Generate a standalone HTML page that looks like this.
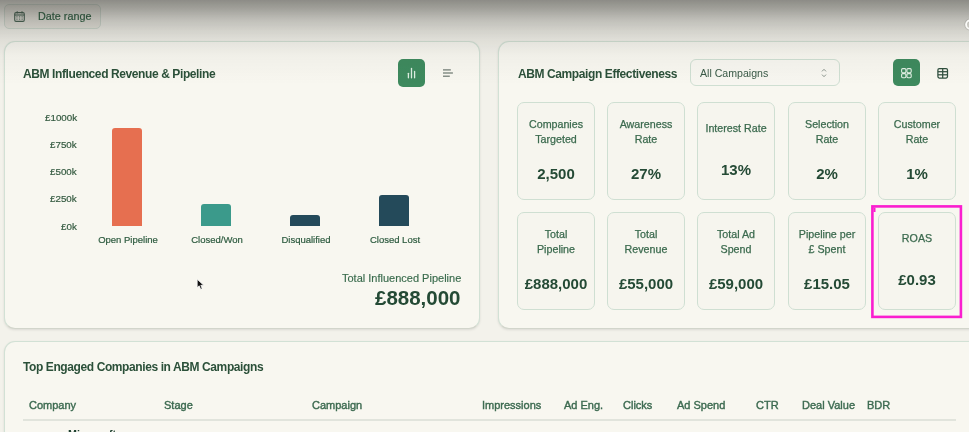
<!DOCTYPE html>
<html><head><meta charset="utf-8">
<style>
*{box-sizing:border-box;margin:0;padding:0}
html,body{width:969px;height:432px;overflow:hidden}
body{background:#f3f2eb;font-family:"Liberation Sans",sans-serif;position:relative;color:#2f5a42}
.abs{position:absolute;white-space:nowrap;line-height:1;will-change:transform}
.card{position:absolute;background:#f8f7f0;border:1px solid #d2e1d5;border-bottom-color:#d2d5cb;border-radius:11px;box-shadow:0 1px 2.5px rgba(0,0,0,0.1)}
.btn{position:absolute;border:1px solid #d3ddd3;border-radius:5px;background:#eceae2}
.gbtn{position:absolute;width:27px;height:27px;border-radius:5px;background:#3e8a5e}
.mc{will-change:transform;position:absolute;width:78px;height:97.5px;border:1px solid #cfdfd2;border-radius:7px;background:#f6f5ee}
.lab{position:absolute;left:0;width:100%;text-align:center;font-size:10.7px;line-height:15px;color:#3b6a4e;white-space:nowrap;-webkit-text-stroke:0.25px #3b6a4e}
.val{position:absolute;left:0;width:100%;text-align:center;font-size:15px;font-weight:bold;line-height:1;color:#244a35;white-space:nowrap}
.ylab{will-change:transform;position:absolute;right:892px;font-size:9.8px;line-height:1;color:#33593f;-webkit-text-stroke:0.2px #33593f;white-space:nowrap}
.bar{position:absolute;width:30px;border-radius:3px 3px 0 0}
.xlab{will-change:transform;position:absolute;font-size:9.5px;line-height:1;color:#2c5a3e;-webkit-text-stroke:0.2px #2c5a3e;white-space:nowrap;text-align:center;width:100px}
.th{will-change:transform;position:absolute;top:399.7px;font-size:11px;line-height:1;color:#3c6a50;white-space:nowrap;-webkit-text-stroke:0.4px #3c6a50}
#shade{position:absolute;left:0;top:0;width:969px;height:120px;pointer-events:none;
background:linear-gradient(to bottom,rgba(40,40,35,0.50) 0px,rgba(40,40,35,0.46) 4px,rgba(40,40,35,0.385) 10px,rgba(40,40,35,0.25) 20px,rgba(40,40,35,0.145) 32px,rgba(40,40,35,0.10) 39px,rgba(40,40,35,0.072) 46px,rgba(40,40,35,0.034) 56px,rgba(40,40,35,0.018) 68px,rgba(40,40,35,0) 85px)}
</style></head><body>

<!-- Date range button -->
<div class="btn" style="left:4px;top:4px;width:97px;height:25px"></div>
<svg class="abs" style="left:13px;top:10px" width="13" height="13" viewBox="0 0 13 13">
  <g fill="none" stroke="#4a6656" stroke-width="1.1">
  <rect x="1.7" y="2.6" width="9.6" height="8.8" rx="1.3"/>
  <line x1="1.7" y1="5" x2="11.3" y2="5"/>
  <line x1="4.2" y1="1.2" x2="4.2" y2="3.4"/><line x1="9" y1="1.2" x2="9" y2="3.4"/>
  </g>
  <g fill="#6b8275"><rect x="3.3" y="6.3" width="1.3" height="1.1"/><rect x="5.9" y="6.3" width="1.3" height="1.1"/><rect x="8.5" y="6.3" width="1.3" height="1.1"/>
  <rect x="3.3" y="8.6" width="1.3" height="1.1"/><rect x="5.9" y="8.6" width="1.3" height="1.1"/><rect x="8.5" y="8.6" width="1.3" height="1.1"/></g>
</svg>
<div class="abs" style="left:38.3px;top:10.8px;font-size:10.8px;color:#2f6144;-webkit-text-stroke:0.2px #2f6144">Date range</div>

<!-- Card 1 -->
<div class="card" style="left:4.3px;top:40.6px;width:476px;height:288.2px"></div>
<div class="abs" style="left:23px;top:67.5px;font-size:12px;font-weight:bold;letter-spacing:-0.4px;color:#2b5039">ABM Influenced Revenue &amp; Pipeline</div>
<div class="gbtn" style="left:398px;top:59.3px;height:27.4px"></div>
<svg class="abs" style="left:398px;top:58.6px" width="27" height="27" viewBox="0 0 27 27">
  <line x1="10.4" y1="14.3" x2="10.4" y2="18.8" stroke="#dfeee2" stroke-width="1.3" stroke-linecap="round"/>
  <line x1="13.5" y1="9.5" x2="13.5" y2="18.8" stroke="#dfeee2" stroke-width="1.3" stroke-linecap="round"/>
  <line x1="16.6" y1="12.4" x2="16.6" y2="18.8" stroke="#dfeee2" stroke-width="1.3" stroke-linecap="round"/>
</svg>
<svg class="abs" style="left:442px;top:68px" width="12" height="10" viewBox="0 0 12 10">
  <line x1="1" y1="1.9" x2="8.8" y2="1.9" stroke="#6b766e" stroke-width="1.2"/>
  <line x1="1" y1="5" x2="10.9" y2="5" stroke="#6b766e" stroke-width="1.2"/>
  <line x1="1" y1="8.2" x2="7.8" y2="8.2" stroke="#6b766e" stroke-width="1.2"/>
</svg>

<div class="ylab" style="top:112.5px">£1000k</div>
<div class="ylab" style="top:139.5px">£750k</div>
<div class="ylab" style="top:166.5px">£500k</div>
<div class="ylab" style="top:194px">£250k</div>
<div class="ylab" style="top:221.5px">£0k</div>

<div class="bar" style="left:112px;top:127.5px;height:98.5px;background:#e66f50"></div>
<div class="bar" style="left:201px;top:204px;height:22px;background:#3b9a8b"></div>
<div class="bar" style="left:290px;top:214.5px;height:11.5px;background:#244a5a"></div>
<div class="bar" style="left:379px;top:194.5px;height:31.5px;background:#244a5a"></div>

<div class="xlab" style="left:77.5px;top:235px">Open Pipeline</div>
<div class="xlab" style="left:166.5px;top:235px">Closed/Won</div>
<div class="xlab" style="left:255.5px;top:235px">Disqualified</div>
<div class="xlab" style="left:344.5px;top:235px">Closed Lost</div>

<svg class="abs" style="left:196px;top:278px" width="10" height="13" viewBox="0 0 10 13">
  <polygon points="1.2,1.3 1.2,9.6 3.2,7.8 4.7,11.3 6.2,10.7 4.8,7.3 7.7,7.3" fill="#111" stroke="#fff" stroke-width="0.7" stroke-linejoin="round"/>
</svg>
<div class="abs" style="right:508px;top:272.5px;font-size:11px;color:#386a4b;-webkit-text-stroke:0.15px #386a4b">Total Influenced Pipeline</div>
<div class="abs" style="right:508px;top:288px;font-size:20.5px;font-weight:bold;color:#244a35">£888,000</div>

<!-- Card 2 -->
<div class="card" style="left:498.4px;top:40.6px;width:490px;height:288.2px"></div>
<div class="abs" style="left:518px;top:67.5px;font-size:12px;font-weight:bold;letter-spacing:-0.4px;color:#2b5039">ABM Campaign Effectiveness</div>
<div class="btn" style="left:689.6px;top:59.4px;width:150.6px;height:27px;background:#f7f6f0;border-color:#cfdfd2;border-radius:6px"></div>
<div class="abs" style="left:700px;top:68px;font-size:10.6px;color:#3a5a47">All Campaigns</div>
<svg class="abs" style="left:820px;top:68px" width="8" height="10" viewBox="0 0 8 10">
  <polyline points="2,3.4 4,1.3 6,3.4" fill="none" stroke="#8a948c" stroke-width="1"/>
  <polyline points="2,6.6 4,8.7 6,6.6" fill="none" stroke="#8a948c" stroke-width="1"/>
</svg>
<div class="gbtn" style="left:893px;top:59px"></div>
<svg class="abs" style="left:893px;top:59px" width="27" height="27" viewBox="0 0 27 27">
  <g fill="none" stroke="#e3f0e5" stroke-width="1.1">
  <rect x="8.6" y="9.6" width="4.3" height="4.1" rx="1.1"/><rect x="13.9" y="9.6" width="4.3" height="4.1" rx="1.1"/>
  <rect x="8.6" y="14.6" width="4.3" height="4.1" rx="1.1"/><rect x="13.9" y="14.6" width="4.3" height="4.1" rx="1.1"/>
  </g>
</svg>
<svg class="abs" style="left:936px;top:67px" width="13" height="12" viewBox="0 0 13 12">
  <g fill="none" stroke="#30503f" stroke-width="1.25">
  <rect x="1.9" y="1.6" width="9.6" height="9.4" rx="1.4"/>
  <line x1="1.9" y1="4.7" x2="11.5" y2="4.7"/><line x1="1.9" y1="7.8" x2="11.5" y2="7.8"/>
  <line x1="6.7" y1="1.6" x2="6.7" y2="11"/>
  </g>
</svg>

<!-- Metric cards row 1 -->
<div class="mc" style="left:517px;top:102px">
  <div class="lab" style="top:13.8px">Companies<br>Targeted</div>
  <div class="val" style="top:62.7px">2,500</div>
</div>
<div class="mc" style="left:607px;top:102px">
  <div class="lab" style="top:13.8px">Awareness<br>Rate</div>
  <div class="val" style="top:62.7px">27%</div>
</div>
<div class="mc" style="left:697px;top:102px">
  <div class="lab" style="top:17.6px">Interest Rate</div>
  <div class="val" style="top:59.2px">13%</div>
</div>
<div class="mc" style="left:788px;top:102px">
  <div class="lab" style="top:13.8px">Selection<br>Rate</div>
  <div class="val" style="top:62.7px">2%</div>
</div>
<div class="mc" style="left:878px;top:102px">
  <div class="lab" style="top:13.8px">Customer<br>Rate</div>
  <div class="val" style="top:62.7px">1%</div>
</div>

<!-- Metric cards row 2 -->
<div class="mc" style="left:517px;top:212px">
  <div class="lab" style="top:13.8px">Total<br>Pipeline</div>
  <div class="val" style="top:63.2px">£888,000</div>
</div>
<div class="mc" style="left:607px;top:212px">
  <div class="lab" style="top:13.8px">Total<br>Revenue</div>
  <div class="val" style="top:63.2px">£55,000</div>
</div>
<div class="mc" style="left:697px;top:212px">
  <div class="lab" style="top:13.8px">Total Ad<br>Spend</div>
  <div class="val" style="top:63.2px">£59,000</div>
</div>
<div class="mc" style="left:788px;top:212px">
  <div class="lab" style="top:13.8px">Pipeline per<br>£ Spent</div>
  <div class="val" style="top:63.2px">£15.05</div>
</div>
<div class="mc" style="left:878px;top:212px">
  <div class="lab" style="top:17.6px">ROAS</div>
  <div class="val" style="top:59.3px">£0.93</div>
</div>
<svg class="abs" style="left:869px;top:203px" width="96" height="118" viewBox="0 0 96 118">
  <rect x="3.4" y="3.4" width="88.5" height="110.5" fill="none" stroke="#fa1ecf" stroke-width="2.6"/>
  <rect x="4.5" y="4.5" width="2" height="4.5" fill="#fa1ecf"/>
</svg>

<!-- Card 3 -->
<div class="card" style="left:4.2px;top:340.7px;width:985px;height:120px"></div>
<div class="abs" style="left:23px;top:360.5px;font-size:12px;font-weight:bold;letter-spacing:-0.4px;color:#2b5039">Top Engaged Companies in ABM Campaigns</div>
<div class="th" style="left:29px">Company</div>
<div class="th" style="left:163.5px">Stage</div>
<div class="th" style="left:312px">Campaign</div>
<div class="th" style="left:481.5px">Impressions</div>
<div class="th" style="left:564px">Ad Eng.</div>
<div class="th" style="left:622.5px">Clicks</div>
<div class="th" style="left:677px">Ad Spend</div>
<div class="th" style="left:756px">CTR</div>
<div class="th" style="left:802px">Deal Value</div>
<div class="th" style="left:867px">BDR</div>
<div class="abs" style="left:23px;top:419px;width:933px;height:1.6px;background:#e1e4dc"></div>
<div class="abs" style="left:68.3px;top:428.8px;font-size:10.7px;font-weight:bold;color:#1f4130">Microsoft</div>

<div id="shade"></div>
<svg style="position:absolute;left:955px;top:12px;z-index:5" width="14" height="26" viewBox="0 0 14 26">
  <circle cx="15.3" cy="12.6" r="4.5" fill="none" stroke="rgba(0,0,0,0.1)" stroke-width="3.2"/>
  <circle cx="15.3" cy="12.6" r="4.2" fill="none" stroke="#fbfbf8" stroke-width="1.9"/>
</svg>
</body></html>
